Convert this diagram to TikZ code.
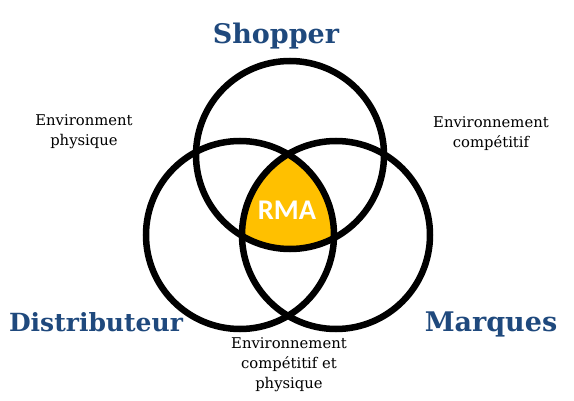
\documentclass[tikz,border=0pt]{standalone}
\usepackage{fontspec}
\usepackage{xcolor}
\setmainfont{DejaVu Serif}
\newfontfamily\rmafont{Carlito}
\definecolor{titleblue}{HTML}{1F497D}
\definecolor{rmagold}{HTML}{FFC000}
\begin{document}
\begin{tikzpicture}[x=1pt,y=-1pt,
  ring/.style={line width=6.5pt,black},
  bigtitle/.style={font=\fontsize{27}{32}\selectfont\bfseries,text=titleblue,inner sep=0pt},
  envlabel/.style={font=\fontsize{14.8}{20}\selectfont,align=center,inner sep=0pt}]
\useasboundingbox (0,0) rectangle (574,401);
\coordinate (c1) at (290,155);
\coordinate (c2) at (240,235);
\coordinate (c3) at (336,235);
\begin{scope}
\clip (c1) circle (94);
\clip (c2) circle (94);
\fill[rmagold] (c3) circle (94);
\end{scope}
\draw[ring] (c1) circle (94);
\draw[ring] (c2) circle (94);
\draw[ring] (c3) circle (94);
\node (0) at (287,210) {\rmafont\fontsize{28.5}{34}\selectfont\bfseries\color{white}RMA};
\node[bigtitle,anchor=base] (1) at (276,44) {Shopper};
\node[bigtitle,anchor=base,font=\fontsize{25}{30}\selectfont\bfseries] (2) at (96,332) {Distributeur};
\node[bigtitle,anchor=base] (3) at (491,332) {Marques};
\node[envlabel] (4) at (84,132) {Environment\\physique};
\node[envlabel] (5) at (491,134) {Environnement\\compétitif};
\node[envlabel] (6) at (289,365) {Environnement\\compétitif et\\physique};
\end{tikzpicture}
\end{document}
